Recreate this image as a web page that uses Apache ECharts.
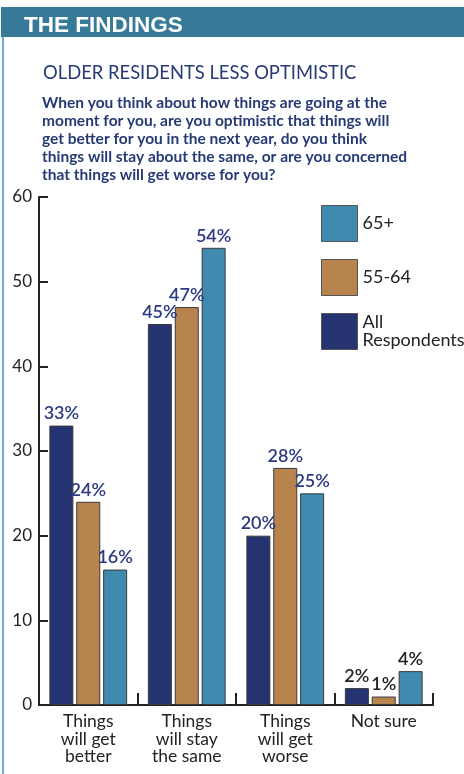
<!DOCTYPE html>
<html><head><meta charset="utf-8">
<script src="https://cdn.jsdelivr.net/npm/echarts@6/dist/echarts.min.js"></script>
<style>html,body{margin:0;padding:0;background:#fff}#c{width:464px;height:774px}</style>
</head><body><div id="c"></div>
<script>
const categories = ['Things\nwill get\nbetter', 'Things\nwill stay\nthe same', 'Things\nwill get\nworse', 'Not sure'];
const seriesNames = ['All Respondents', '55-64', '65+'];
const allRespondents = [33, 45, 20, 2];
const age55to64 = [24, 47, 28, 1];
const age65plus = [16, 54, 25, 4];
const yTicks = [0, 10, 20, 30, 40, 50, 60];
const legendOrder = ['65+', '55-64', 'All Respondents'];

const colors = ['#253371', '#b8844e', '#3f8aae'];
const font = 'Lato, "Noto Sans", sans-serif';
const labelNavy = '#2b3a82';

function mkSeries(name, data, color) {
  return {
    name: name, type: 'bar', data: data.map(v => ({
      value: v,
      label: { color: v <= 4 ? '#222' : labelNavy }
    })),
    barWidth: 24, barGap: '12%',
    itemStyle: { color: color, borderColor: '#3a3a3a', borderWidth: 1 },
    label: { show: true, position: 'top', distance: 3, formatter: '{c}%', fontFamily: font, fontSize: 18, fontWeight: 600, color: labelNavy }
  };
}

const chart = echarts.init(document.getElementById('c'), null, { renderer: 'canvas' });
chart.setOption({
  animation: false,
  title: [
    { text: 'THE FINDINGS', left: 19, top: 9, textStyle: { color: '#fff', fontFamily: '"Liberation Sans", Arial, sans-serif', fontWeight: 900, fontSize: 22.5 } },
    { text: 'OLDER RESIDENTS LESS OPTIMISTIC', left: 38, top: 59, textStyle: { color: '#263a75', fontFamily: font, fontWeight: 'normal', fontSize: 18.4 } },
    { text: 'When you think about how things are going at the\nmoment for you, are you optimistic that things will\nget better for you in the next year, do you think\nthings will stay about the same, or are you concerned\nthat things will get worse for you?',
      left: 37, top: 89, textStyle: { color: '#263a75', fontFamily: font, fontWeight: 'bold', fontSize: 15.5, lineHeight: 18 } }
  ],
  graphic: [
    { type: 'rect', left: 1, top: 7, shape: { width: 463, height: 30 }, style: { fill: '#367a98' }, z: -1 },
    { type: 'rect', left: 2, top: 37, shape: { width: 2, height: 737 }, style: { fill: '#6aaed0' }, z: -1 }
  ],
  legend: {
    data: legendOrder.map(n => ({ name: n, icon: 'rect' })), orient: 'vertical', left: 316, top: 200,
    itemWidth: 36, itemHeight: 36, itemGap: 17,
    itemStyle: { borderColor: '#555', borderWidth: 1 },
    formatter: n => n.replace(' ', '\n'),
    textStyle: { fontFamily: font, fontSize: 18, color: '#222', lineHeight: 18 },
    selectedMode: false
  },
  grid: { left: 39, right: 31, top: 197, bottom: 69 },
  xAxis: {
    type: 'category', data: categories,
    axisLine: { lineStyle: { color: '#222', width: 2 } },
    axisTick: { show: true, inside: true, length: 12, lineStyle: { color: '#222', width: 2 } },
    axisLabel: { fontFamily: font, fontSize: 17.5, color: '#222', lineHeight: 17.5, margin: 8 }
  },
  yAxis: {
    type: 'value', min: 0, max: 60, interval: 10,
    axisLine: { show: true, lineStyle: { color: '#222', width: 2 } },
    axisTick: { show: true, inside: true, length: 9, lineStyle: { color: '#222', width: 2 } },
    splitLine: { show: false },
    axisLabel: { fontFamily: font, fontSize: 17, color: '#222', margin: 7, formatter: v => yTicks.includes(v) ? String(v) : '' }
  },
  series: [
    mkSeries(seriesNames[0], allRespondents, colors[0]),
    mkSeries(seriesNames[1], age55to64, colors[1]),
    mkSeries(seriesNames[2], age65plus, colors[2])
  ]
});
</script></body></html>
